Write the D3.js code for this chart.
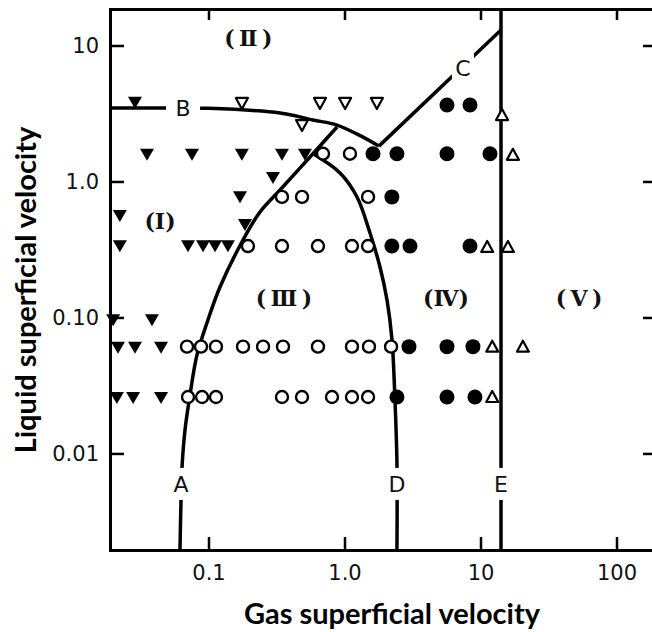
<!DOCTYPE html>
<html>
<head>
<meta charset="utf-8">
<script src="https://cdn.jsdelivr.net/npm/d3@7"></script>
<style>
  body { margin: 0; background: #fff; }
  svg { display: block; }
  .axis text { font-family: "DejaVu Sans", sans-serif; font-size: 21px; fill: #111; }
  .title { font-family: Lato, sans-serif; font-weight: bold; font-size: 29px; fill: #000; }
  .region { font-family: "DejaVu Serif", serif; font-weight: bold; font-size: 22px; fill: #111; }
  .linelabel { font-family: "DejaVu Sans", sans-serif; font-size: 22px; fill: #111; }
</style>
</head>
<body>
<div id="chart"></div>
<script>
const WIDTH = 652, HEIGHT = 632;

// tick values and labels
const xTicks = [0.1, 1, 10, 100];
const xTickLabels = ["0.1", "1.0", "10", "100"];
const yTicks = [0.01, 0.1, 1, 10];
const yTickLabels = ["0.01", "0.10", "1.0", "10"];

// observed points, [gas velocity, liquid velocity]
const filledTriangles = [
  [0.0288, 3.85],
  [0.0353, 1.6], [0.0756, 1.6], [0.176, 1.6], [0.347, 1.6], [0.512, 1.6],
  [0.298, 1.08], [0.1705, 0.78], [0.0223, 0.567], [0.1855, 0.487],
  [0.0223, 0.34], [0.0707, 0.34], [0.0912, 0.34], [0.1117, 0.34], [0.139, 0.34],
  [0.0199, 0.097], [0.0384, 0.097],
  [0.0216, 0.061], [0.0288, 0.061], [0.0448, 0.061],
  [0.0212, 0.026], [0.0279, 0.026], [0.0448, 0.026]
];
const openTriangles = [
  [0.176, 3.78], [0.66, 3.78], [1.01, 3.78], [1.73, 3.78], [0.487, 2.6]
];
const openUpTriangles = [
  [14.4, 3.08], [17.3, 1.57], [11.2, 0.33], [15.9, 0.33],
  [12.2, 0.061], [20.5, 0.061], [12.2, 0.026]
];
const openCircles = [
  [0.695, 1.6], [1.097, 1.6],
  [0.347, 0.77], [0.487, 0.77], [1.49, 0.77],
  [0.195, 0.335], [0.347, 0.335], [0.638, 0.335], [1.135, 0.335], [1.49, 0.335],
  [0.0695, 0.061], [0.0881, 0.061], [0.1135, 0.061], [0.1794, 0.061], [0.252, 0.061],
  [0.353, 0.061], [0.638, 0.061], [1.135, 0.061], [1.514, 0.061], [2.2, 0.061],
  [0.0707, 0.026], [0.0897, 0.026], [0.1135, 0.026], [0.347, 0.026], [0.487, 0.026],
  [0.809, 0.026], [1.135, 0.026], [1.49, 0.026]
];
const filledCircles = [
  [5.67, 3.65], [8.37, 3.65],
  [1.62, 1.6], [2.43, 1.6], [5.67, 1.6], [11.74, 1.6],
  [2.23, 0.77],
  [2.23, 0.335], [3.03, 0.335], [8.37, 0.335],
  [2.98, 0.061], [5.67, 0.061], [8.8, 0.061],
  [2.43, 0.026], [5.67, 0.026], [9.1, 0.026]
];

// regime boundaries
const curveA = [[0.0617, 0.00195], [0.0628, 0.00455], [0.0639, 0.00796], [0.0672, 0.0149],
  [0.0731, 0.0269], [0.0823, 0.053], [0.0991, 0.0959], [0.1215, 0.1676], [0.1794, 0.3714],
  [0.2391, 0.5966], [0.3356, 0.866], [0.5577, 1.514], [0.881, 2.516]];
const curveB = [[0.0189, 3.47], [0.05, 3.47], [0.1, 3.45], [0.336, 3.19], [0.587, 2.83],
  [0.881, 2.6], [1.368, 2.12], [1.79, 1.82]];
const lineC = [[1.79, 1.82], [14.15, 13.0]];
const curveD = [[0.577, 1.62], [0.927, 1.155], [1.236, 0.769], [1.54, 0.418], [1.824, 0.235],
  [2.054, 0.1345], [2.235, 0.0683], [2.35, 0.0247], [2.43, 0.00851], [2.43, 0.00195]];
const lineE = [[14.15, 0.00195], [14.15, 18.55]];

const lineLabels = [
  { t: "A", p: [0.0628, 0.00597] }, { t: "B", p: [0.065, 3.47] }, { t: "C", p: [7.43, 6.83] },
  { t: "D", p: [2.43, 0.00597] }, { t: "E", p: [14.15, 0.00597] }
];
const regionLabels = [
  { t: "(\u2009\u2161\u2009)", p: [0.196, 11.36] }, { t: "(\u2160)", p: [0.044, 0.513] },
  { t: "(\u2009\u2162\u2009)", p: [0.359, 0.139] }, { t: "(\u2163)", p: [5.57, 0.139] },
  { t: "(\u2009\u2164\u2009)", p: [53.0, 0.139] }
];

const svg = d3.select("#chart").append("svg")
  .attr("width", WIDTH).attr("height", HEIGHT);

const x = d3.scaleLog().domain([0.01887, 191.9]).range([110, 655]);
const y = d3.scaleLog().domain([0.00195, 18.55]).range([550, 9]);

// axes, all ticks pointing inward
function styleAxis(g) {
  g.select(".domain").attr("stroke", "#000").attr("stroke-width", 3).attr("stroke-linecap", "square");
  g.selectAll(".tick line").attr("stroke", "#000").attr("stroke-width", 2.5);
}
svg.append("g").attr("class", "axis").attr("transform", "translate(110,0)")
  .call(d3.axisLeft(y).tickValues(yTicks).tickFormat((d, i) => yTickLabels[i])
    .tickSize(-14).tickSizeOuter(0).tickPadding(11))
  .call(styleAxis);
svg.append("g").attr("class", "axis").attr("transform", "translate(0,550)")
  .call(d3.axisBottom(x).tickValues(xTicks).tickFormat((d, i) => xTickLabels[i])
    .tickSize(-13).tickSizeOuter(0).tickPadding(15))
  .call(styleAxis);
svg.append("g").attr("class", "axis").attr("transform", "translate(0,9)")
  .call(d3.axisTop(x).tickValues(xTicks).tickFormat("").tickSize(-11).tickSizeOuter(0))
  .call(styleAxis);
svg.append("g").attr("class", "axis").attr("transform", "translate(655,0)")
  .call(d3.axisRight(y).tickValues(yTicks).tickFormat("").tickSize(-12).tickSizeOuter(0))
  .call(styleAxis);

// boundary lines
const line = d3.line().x(d => x(d[0])).y(d => y(d[1])).curve(d3.curveCatmullRom.alpha(0.5));
[curveA, curveB, lineC, curveD, lineE].forEach(c => {
  svg.append("path").datum(c).attr("d", line)
    .attr("fill", "none").attr("stroke", "#000").attr("stroke-width", 3.5);
});

// line labels sit in a gap of the line
lineLabels.forEach(l => {
  const g = svg.append("g").attr("transform", `translate(${x(l.p[0])},${y(l.p[1])})`);
  g.append("rect").attr("x", l.t == "B" ? -17 : -11).attr("y", -16)
    .attr("width", l.t == "B" ? 34 : 22).attr("height", 32).attr("fill", "#fff");
  g.append("text").attr("class", "linelabel").attr("text-anchor", "middle")
    .attr("dy", "0.36em").text(l.t);
});

// regime labels
regionLabels.forEach(l => {
  svg.append("text").attr("class", "region").attr("text-anchor", "middle")
    .attr("x", x(l.p[0])).attr("y", y(l.p[1])).attr("dy", "0.35em").text(l.t);
});

// markers
const pos = d => `translate(${x(d[0])},${y(d[1])})`;
svg.selectAll(".ftri").data(filledTriangles).enter().append("path")
  .attr("transform", pos).attr("d", "M-7,-5L7,-5L0,7Z").attr("fill", "#000");
svg.selectAll(".otri").data(openTriangles).enter().append("path")
  .attr("transform", pos).attr("d", "M-6,-5L6,-5L0,6Z")
  .attr("fill", "#fff").attr("stroke", "#000").attr("stroke-width", 2.2).attr("stroke-linejoin", "round");
svg.selectAll(".utri").data(openUpTriangles).enter().append("path")
  .attr("transform", pos).attr("d", "M0,-6L6,5L-6,5Z")
  .attr("fill", "#fff").attr("stroke", "#000").attr("stroke-width", 2.2).attr("stroke-linejoin", "round");
svg.selectAll(".ocirc").data(openCircles).enter().append("circle")
  .attr("transform", pos).attr("r", 6)
  .attr("fill", "#fff").attr("stroke", "#000").attr("stroke-width", 2.4);
svg.selectAll(".fcirc").data(filledCircles).enter().append("circle")
  .attr("transform", pos).attr("r", 7.5).attr("fill", "#000");

// axis titles
svg.append("text").attr("class", "title").attr("text-anchor", "middle")
  .attr("x", 392).attr("y", 624).text("Gas superficial velocity");
svg.append("text").attr("class", "title").attr("text-anchor", "middle")
  .attr("transform", "translate(36,290) rotate(-90)").text("Liquid superficial velocity");
</script>
</body>
</html>
